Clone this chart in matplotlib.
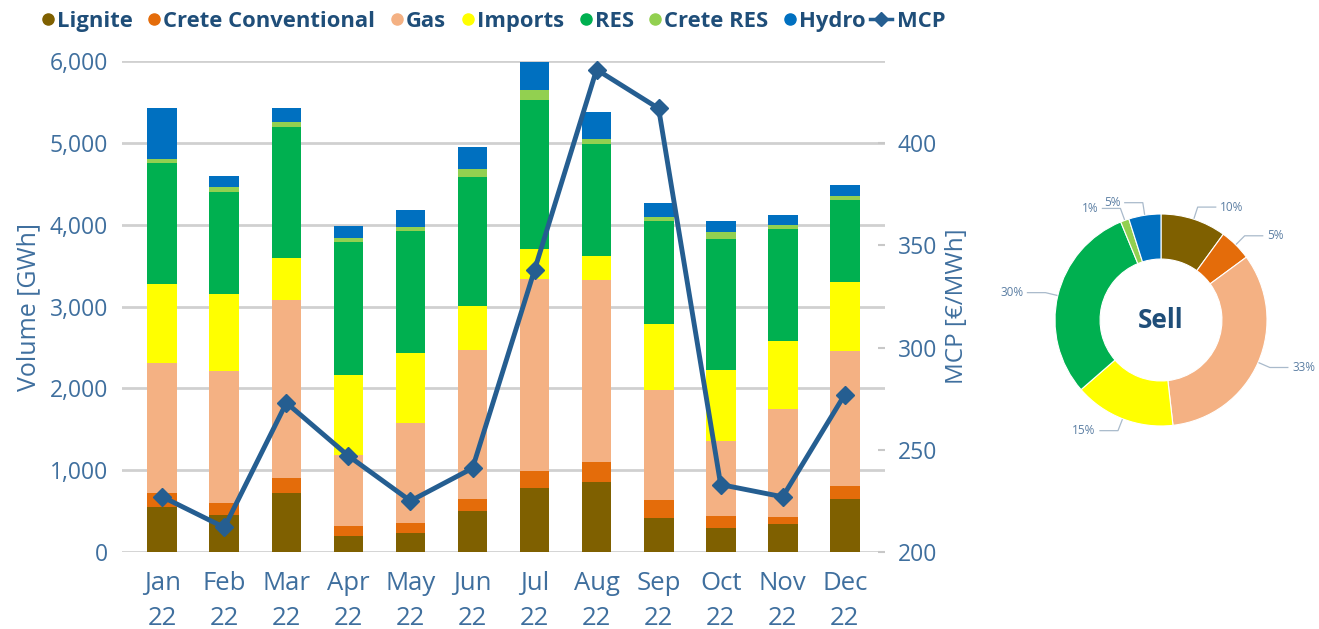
import numpy as np
import matplotlib
matplotlib.use("Agg")
from matplotlib import pyplot as plt
from matplotlib.lines import Line2D
from matplotlib.legend_handler import HandlerLine2D

plt.rcParams['font.family'] = ['Open Sans', 'DejaVu Sans']

# data (GWh per source and month)
months = ["Jan\n22", "Feb\n22", "Mar\n22", "Apr\n22", "May\n22", "Jun\n22",
          "Jul\n22", "Aug\n22", "Sep\n22", "Oct\n22", "Nov\n22", "Dec\n22"]
lignite = [554, 452, 725, 196, 228, 501, 778, 852, 416, 289, 338, 652]
crete_conv = [171, 151, 184, 122, 123, 147, 216, 244, 220, 155, 90, 159]
gas = [1582, 1610, 2172, 868, 1230, 1821, 2347, 2225, 1349, 913, 1324, 1642]
imports = [969, 937, 509, 982, 856, 542, 367, 298, 799, 872, 827, 844]
res = [1475, 1255, 1602, 1626, 1487, 1577, 1818, 1365, 1258, 1602, 1370, 1010]
crete_res = [53, 57, 65, 49, 53, 90, 114, 69, 57, 85, 53, 49]
hydro = [620, 135, 167, 142, 208, 277, 354, 330, 171, 126, 114, 134]
mcp = [227, 212, 273, 247, 225, 241, 338, 436, 417, 233, 227, 277]

# yearly shares shown in the donut (%)
sell_share = [10.0, 4.9, 33.3, 15.4, 30.2, 1.3, 4.9]

series_names = ["Lignite", "Crete Conventional", "Gas", "Imports", "RES", "Crete RES", "Hydro"]
series_vals = [lignite, crete_conv, gas, imports, res, crete_res, hydro]
colors = ["#7f6000", "#e46c0a", "#f4b183", "#ffff00", "#00b050", "#92d050", "#0070c0"]

tick_col = "#3f6f9e"
text_col = "#1f4e79"
line_col = "#255e91"

fig = plt.figure(figsize=(13.19, 6.29), dpi=100)
ax = fig.add_axes([0.0925, 0.1224, 0.5785, 0.7806])

x = np.arange(len(months))
bottom = np.zeros(len(months))
for name, vals, c in zip(series_names, series_vals, colors):
    ax.bar(x, vals, 0.48, bottom=bottom, color=c, label=name, zorder=3)
    bottom += np.array(vals)

ax.set_ylim(0, 6000)
ax.set_xlim(-0.65, 11.65)
ax.set_yticks(range(0, 6001, 1000))
ax.set_yticklabels([f"{v:,}" for v in range(0, 6001, 1000)])
ax.set_xticks(x)
ax.set_xticklabels(months, linespacing=1.5)
ax.yaxis.grid(True, color="#d0d0d0", lw=2, zorder=0)
ax.tick_params(axis="y", length=0, labelsize=16.5, labelcolor=tick_col, pad=10)
ax.tick_params(axis="x", length=0, labelsize=18.5, labelcolor=tick_col, pad=14)
ax.set_ylabel("Volume [GWh]", fontsize=18, color=tick_col, labelpad=6)
for s in ax.spines.values():
    s.set_visible(False)

ax2 = ax.twinx()
ax2.plot(x, mcp, color=line_col, lw=3.5, marker="D", markersize=9, label="MCP", zorder=5)
ax2.set_ylim(200, 440.2)
ax2.set_yticks(range(200, 401, 50))
ax2.tick_params(axis="y", direction="in", length=5, width=1.5, color="#c8c8c8",
                labelsize=16.5, labelcolor=tick_col, pad=9)
ax2.set_ylabel("MCP [€/MWh]", fontsize=17.5, color=tick_col, labelpad=6)
for s in ax2.spines.values():
    s.set_visible(False)


# circle legend entries: marker sits at the right end of the handle box
class RightMarker(HandlerLine2D):
    def create_artists(self, legend, orig_handle, xdescent, ydescent, width, height, fontsize, trans):
        w0 = 0.42 * fontsize
        return super().create_artists(legend, orig_handle, xdescent - (width - w0), ydescent,
                                      w0, height, fontsize, trans)


handles = [Line2D([], [], ls="", marker="o", markersize=8, color=c) for c in colors]
mcp_handle = Line2D([], [], color=line_col, lw=2.5, marker="D", markersize=7)
hmap = {h: RightMarker(numpoints=1) for h in handles}
handles.append(mcp_handle)
leg = fig.legend(handles, series_names + ["MCP"], loc="center left", bbox_to_anchor=(0.008, 0.966),
                 ncol=8, frameon=False, handlelength=1.0, handletextpad=0.2, columnspacing=0.2,
                 prop={"weight": "bold", "size": 15.8}, handler_map=hmap)
for t in leg.get_texts():
    t.set_color(text_col)

# donut with the yearly shares
cx, cy, r_px = 1161, 320, 106
half = 160
dax = fig.add_axes([(cx - half) / 1319, (629 - cy - half) / 629, 2 * half / 1319, 2 * half / 629])
wedges, _ = dax.pie(sell_share, colors=colors, startangle=90, counterclock=False,
                    wedgeprops=dict(width=0.425, edgecolor="white", linewidth=0.8))
lim = half / r_px
dax.set_xlim(-lim, lim)
dax.set_ylim(-lim, lim)
dax.set_aspect("equal")
dax.axis("off")
dax.text(0, 0, "Sell", ha="center", va="center", fontsize=19, fontweight="bold", color=text_col)
for w, sh in zip(wedges, sell_share):
    ang = np.deg2rad((w.theta1 + w.theta2) / 2)
    x0, y0 = np.cos(ang), np.sin(ang)
    xe, ye = 1.12 * x0, 1.12 * y0
    side = 1 if x0 >= 0 else -1
    xt = xe + side * 0.17
    dax.plot([1.01 * x0, xe, xt], [1.01 * y0, ye, ye], color="#a9bacb", lw=0.9)
    dax.text(xt + side * 0.04, ye, f"{sh:.0f}%", ha="left" if side > 0 else "right",
             va="center", fontsize=8.5, color="#5b7ea3")

fig.savefig("out.png", dpi=100)
